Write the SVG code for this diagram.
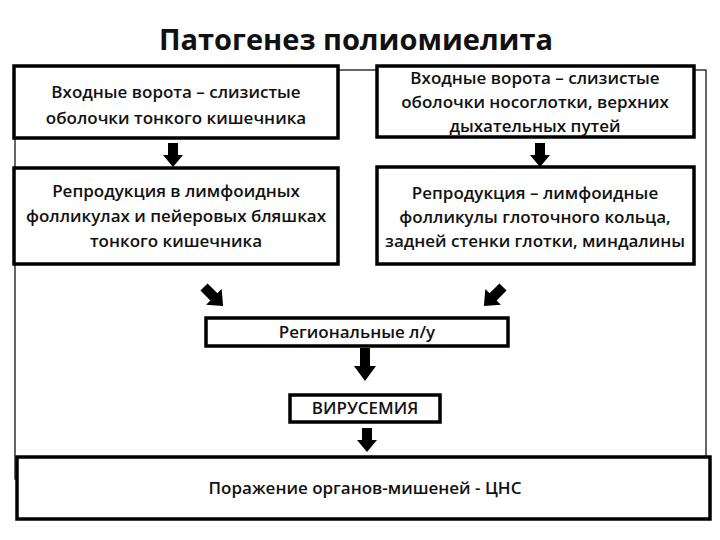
<svg xmlns="http://www.w3.org/2000/svg" xmlns:xlink="http://www.w3.org/1999/xlink" width="720" height="540" viewBox="0 0 720 540">
<style>
.box{fill:#fff;stroke:#000;stroke-width:3.5}
.t{font-family:"Open Sans","Noto Sans","DejaVu Sans",sans-serif;font-weight:600;font-size:17px;fill:#111;text-anchor:middle}
.title{font-family:"Open Sans","Noto Sans","DejaVu Sans",sans-serif;font-weight:700;font-size:29px;fill:#111;text-anchor:middle}
.frame{fill:none;stroke:#000;stroke-width:1.2}
.arr{fill:#000}
</style>
<defs>
<polygon id="dn" points="-5,0 5,0 5,12 10,12 0,24 -10,12 -5,12"/>
<polygon id="dg" points="-5,0 5,0 5,14 11,14 0,27 -11,14 -5,14"/>
</defs>
<rect width="720" height="540" fill="#fff"/>
<text class="title" x="356" y="50">Патогенез полиомиелита</text>
<g id="frame"><rect class="frame" x="15" y="70" width="691" height="409"/></g>
<g id="connectors" class="arr">
<use xlink:href="#dn" transform="translate(173,143)"/>
<use xlink:href="#dn" transform="translate(540,143)"/>
<use xlink:href="#dg" transform="translate(204,287) rotate(-45)"/>
<use xlink:href="#dg" transform="translate(503,287) rotate(45)"/>
<polygon points="360,348 370,348 370,366 376,366 365,381 354,366 360,366"/>
<use xlink:href="#dn" transform="translate(367,428)"/>
</g>
<g id="n1"><rect class="box" x="14" y="66" width="324" height="72"/>
<text class="t" x="176" y="98">Входные ворота – слизистые</text>
<text class="t" x="176" y="124">оболочки тонкого кишечника</text></g>
<g id="n2"><rect class="box" x="377" y="66" width="317" height="71"/>
<text class="t" x="535" y="84">Входные ворота – слизистые</text>
<text class="t" x="535" y="108">оболочки носоглотки, верхних</text>
<text class="t" x="535" y="132">дыхательных путей</text></g>
<g id="n3"><rect class="box" x="14" y="168" width="324" height="96"/>
<text class="t" x="176" y="197">Репродукция в лимфоидных</text>
<text class="t" x="176" y="222">фолликулах и пейеровых бляшках</text>
<text class="t" x="176" y="247">тонкого кишечника</text></g>
<g id="n4"><rect class="box" x="377" y="167" width="317" height="97"/>
<text class="t" x="535" y="199">Репродукция – лимфоидные</text>
<text class="t" x="535" y="223">фолликулы глоточного кольца,</text>
<text class="t" x="535" y="247">задней стенки глотки, миндалины</text></g>
<g id="n5"><rect class="box" x="206" y="318" width="302" height="28"/>
<text class="t" x="357" y="338">Региональные л/у</text></g>
<g id="n6"><rect class="box" x="290" y="395" width="150" height="27"/>
<text class="t" x="365" y="414">ВИРУСЕМИЯ</text></g>
<g id="n7"><rect class="box" x="17" y="457" width="693" height="62"/>
<text class="t" x="365" y="494">Поражение органов-мишеней - ЦНС</text></g>
</svg>
